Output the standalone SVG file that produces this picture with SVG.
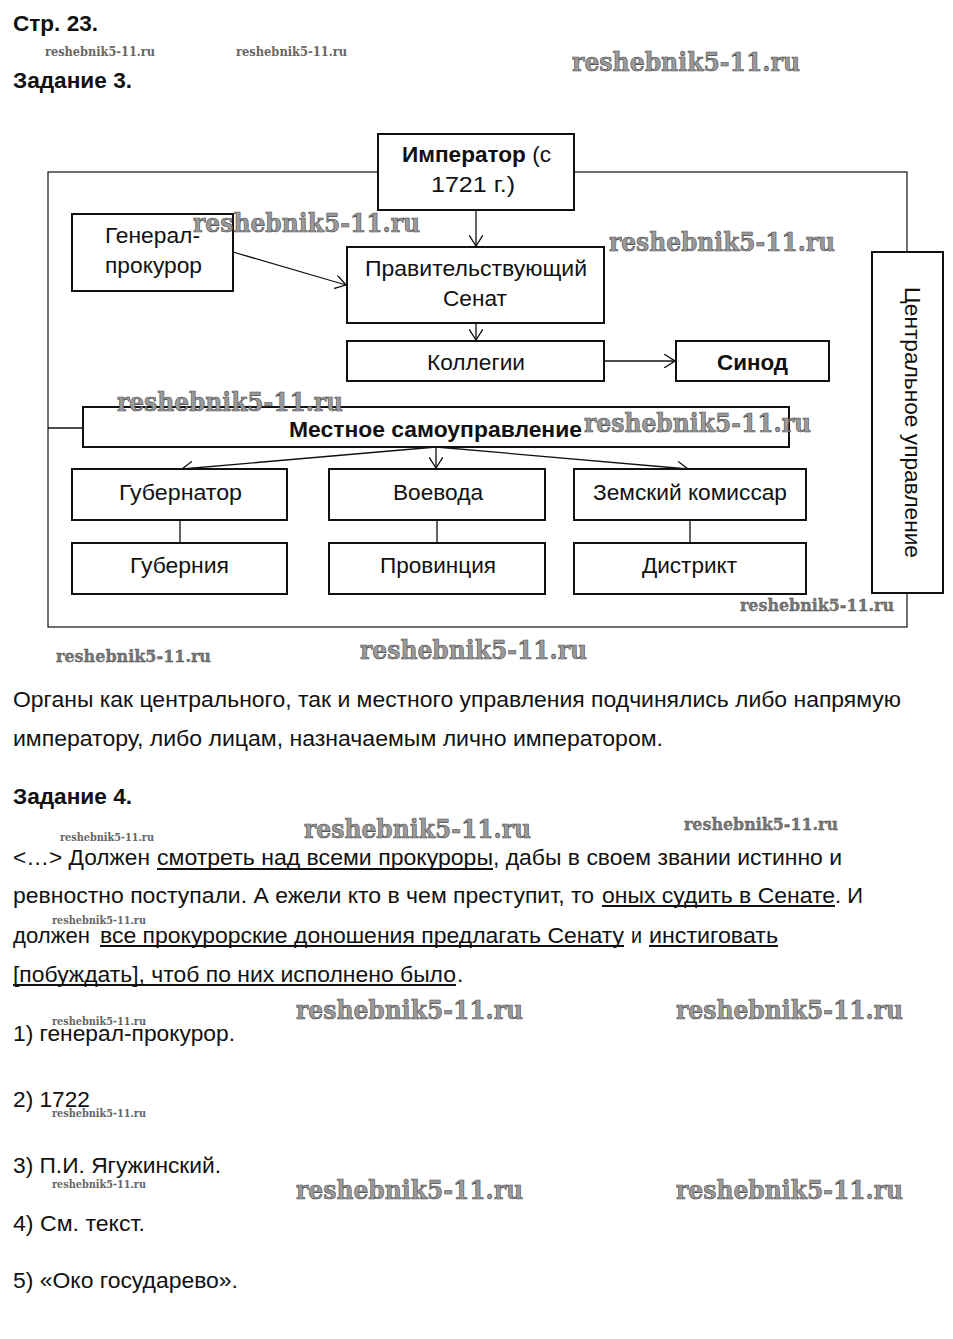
<svg xmlns="http://www.w3.org/2000/svg" width="953" height="1339" viewBox="0 0 953 1339">
<defs>
<style>
.t{font-family:"Liberation Sans",Arial,sans-serif;font-size:22px;fill:#111}
.p{font-family:"Liberation Sans",Arial,sans-serif;font-size:22.5px;fill:#111}
.b{font-weight:bold}
.h{font-family:"Liberation Sans",Arial,sans-serif;font-size:22px;font-weight:bold;fill:#111}
.box{fill:#fff;stroke:#111;stroke-width:2}
.frame{fill:none;stroke:#111;stroke-width:1.2}
.ln{fill:none;stroke:#111;stroke-width:1.3}
.ul{stroke:#111;stroke-width:1.8}
.wl{font-family:"DejaVu Serif",serif;font-weight:bold;font-size:26px;fill:#9a9a9a;stroke:#444;stroke-width:0.6}
.wm{font-family:"DejaVu Serif",serif;font-weight:bold;font-size:17px;fill:#777;stroke:#444;stroke-width:0.3}
.ws{font-family:"DejaVu Serif",serif;font-weight:bold;font-size:12px;fill:#666}
</style>
<marker id="ar" viewBox="0 0 12 14" refX="11" refY="7" markerWidth="12" markerHeight="14" markerUnits="userSpaceOnUse" orient="auto">
<path d="M0,0 L11,7 L0,14" fill="none" stroke="#111" stroke-width="1.3"/>
</marker>
</defs>
<rect width="953" height="1339" fill="#fff"/>

<text class="h" x="13" y="31" textLength="85" lengthAdjust="spacingAndGlyphs">Стр. 23.</text>
<text class="h" x="13" y="88" textLength="119" lengthAdjust="spacingAndGlyphs">Задание 3.</text>

<rect class="frame" x="48" y="172" width="859" height="455"/>

<g id="connectors">
<line class="ln" x1="476" y1="210" x2="476" y2="246" marker-end="url(#ar)"/>
<line class="ln" x1="233" y1="252" x2="346" y2="285" marker-end="url(#ar)"/>
<line class="ln" x1="476" y1="323" x2="476" y2="340" marker-end="url(#ar)"/>
<line class="ln" x1="604" y1="361" x2="675" y2="361" marker-end="url(#ar)"/>
<line class="ln" x1="48" y1="428" x2="83" y2="428"/>
<line class="ln" x1="436" y1="447" x2="182" y2="469" marker-end="url(#ar)"/>
<line class="ln" x1="436" y1="447" x2="436" y2="468" marker-end="url(#ar)"/>
<line class="ln" x1="436" y1="447" x2="688" y2="469" marker-end="url(#ar)"/>
<line class="ln" x1="180" y1="520" x2="180" y2="543"/>
<line class="ln" x1="437" y1="520" x2="437" y2="543"/>
<line class="ln" x1="690" y1="520" x2="690" y2="543"/>
</g>

<g id="emperor">
<rect class="box" x="378" y="134" width="196" height="76"/>
<text class="t" x="402" y="162" textLength="149" lengthAdjust="spacingAndGlyphs"><tspan class="b">Император</tspan> (с</text>
<text class="t" x="431" y="192" textLength="84" lengthAdjust="spacingAndGlyphs">1721 г.)</text>
</g>
<g id="genprok">
<rect class="box" x="72" y="214" width="161" height="77"/>
<text class="t" x="105" y="243" textLength="95" lengthAdjust="spacingAndGlyphs">Генерал-</text>
<text class="t" x="105" y="273" textLength="97" lengthAdjust="spacingAndGlyphs">прокурор</text>
</g>
<g id="senat">
<rect class="box" x="347" y="247" width="257" height="76"/>
<text class="t" x="365" y="276" textLength="222" lengthAdjust="spacingAndGlyphs">Правительствующий</text>
<text class="t" x="443" y="306" textLength="64" lengthAdjust="spacingAndGlyphs">Сенат</text>
</g>
<g id="kollegii">
<rect class="box" x="347" y="341" width="257" height="40"/>
<text class="t" x="427" y="370" textLength="98" lengthAdjust="spacingAndGlyphs">Коллегии</text>
</g>
<g id="sinod">
<rect class="box" x="676" y="341" width="153" height="40"/>
<text class="t b" x="717" y="370" textLength="71" lengthAdjust="spacingAndGlyphs">Синод</text>
</g>
<g id="mestnoe">
<rect class="box" x="83" y="407" width="706" height="40"/>
<text class="t b" x="289" y="437" textLength="293" lengthAdjust="spacingAndGlyphs">Местное самоуправление</text>
</g>
<g id="gubernator">
<rect class="box" x="72" y="469" width="215" height="51"/>
<text class="t" x="119" y="500" textLength="123" lengthAdjust="spacingAndGlyphs">Губернатор</text>
</g>
<g id="voevoda">
<rect class="box" x="329" y="469" width="216" height="51"/>
<text class="t" x="393" y="500" textLength="90" lengthAdjust="spacingAndGlyphs">Воевода</text>
</g>
<g id="zemsky">
<rect class="box" x="574" y="469" width="232" height="51"/>
<text class="t" x="593" y="500" textLength="194" lengthAdjust="spacingAndGlyphs">Земский комиссар</text>
</g>
<g id="guberniya">
<rect class="box" x="72" y="543" width="215" height="51"/>
<text class="t" x="130" y="573" textLength="99" lengthAdjust="spacingAndGlyphs">Губерния</text>
</g>
<g id="provinciya">
<rect class="box" x="329" y="543" width="216" height="51"/>
<text class="t" x="380" y="573" textLength="116" lengthAdjust="spacingAndGlyphs">Провинция</text>
</g>
<g id="distrikt">
<rect class="box" x="574" y="543" width="232" height="51"/>
<text class="t" x="642" y="573" textLength="95" lengthAdjust="spacingAndGlyphs">Дистрикт</text>
</g>
<g id="central">
<rect class="box" x="872" y="252" width="71" height="341"/>
<text class="t" transform="translate(905,422) rotate(90)" x="-135" y="0" textLength="271" lengthAdjust="spacingAndGlyphs">Центральное управление</text>
</g>

<text class="p" x="13" y="707" textLength="888" lengthAdjust="spacingAndGlyphs">Органы как центрального, так и местного управления подчинялись либо напрямую</text>
<text class="p" x="13" y="746" textLength="650" lengthAdjust="spacingAndGlyphs">императору, либо лицам, назначаемым лично императором.</text>

<text class="h" x="13" y="804" textLength="119" lengthAdjust="spacingAndGlyphs">Задание 4.</text>

<text class="p" x="13" y="865" textLength="137" lengthAdjust="spacingAndGlyphs">&lt;…&gt; Должен</text>
<text class="p" x="157" y="865" textLength="336" lengthAdjust="spacingAndGlyphs">смотреть над всеми прокуроры</text>
<text class="p" x="493" y="865" textLength="349" lengthAdjust="spacingAndGlyphs">, дабы в своем звании истинно и</text>
<line class="ul" x1="157" y1="869" x2="493" y2="869"/>

<text class="p" x="13" y="903" textLength="581" lengthAdjust="spacingAndGlyphs">ревностно поступали. А ежели кто в чем преступит, то</text>
<text class="p" x="602" y="903" textLength="233" lengthAdjust="spacingAndGlyphs">оных судить в Сенате</text>
<text class="p" x="835" y="903" textLength="28" lengthAdjust="spacingAndGlyphs">. И</text>
<line class="ul" x1="602" y1="906" x2="835" y2="906"/>

<text class="p" x="13" y="943" textLength="77" lengthAdjust="spacingAndGlyphs">должен</text>
<text class="p" x="100" y="943" textLength="524" lengthAdjust="spacingAndGlyphs">все прокурорские доношения предлагать Сенату</text>
<text class="p" x="631" y="943" textLength="11" lengthAdjust="spacingAndGlyphs">и</text>
<text class="p" x="649" y="943" textLength="129" lengthAdjust="spacingAndGlyphs">инстиговать</text>
<line class="ul" x1="100" y1="946" x2="624" y2="946"/>
<line class="ul" x1="649" y1="946" x2="778" y2="946"/>

<text class="p" x="13" y="982" textLength="443" lengthAdjust="spacingAndGlyphs">[побуждать], чтоб по них исполнено было</text>
<text class="p" x="457" y="982">.</text>
<line class="ul" x1="13" y1="985" x2="456" y2="985"/>

<text class="p" x="13" y="1041" textLength="222" lengthAdjust="spacingAndGlyphs">1) генерал-прокурор.</text>
<text class="p" x="13" y="1107" textLength="77" lengthAdjust="spacingAndGlyphs">2) 1722</text>
<text class="p" x="13" y="1173" textLength="208" lengthAdjust="spacingAndGlyphs">3) П.И. Ягужинский.</text>
<text class="p" x="13" y="1231" textLength="132" lengthAdjust="spacingAndGlyphs">4) См. текст.</text>
<text class="p" x="13" y="1288" textLength="225" lengthAdjust="spacingAndGlyphs">5) «Око государево».</text>

<g id="watermarks">
<text class="ws" x="45" y="56" textLength="110" lengthAdjust="spacingAndGlyphs">reshebnik5-11.ru</text>
<text class="ws" x="236" y="56" textLength="111" lengthAdjust="spacingAndGlyphs">reshebnik5-11.ru</text>
<text class="wl" x="572" y="71" textLength="228" lengthAdjust="spacingAndGlyphs">reshebnik5-11.ru</text>
<text class="wl" x="193" y="232" textLength="227" lengthAdjust="spacingAndGlyphs">reshebnik5-11.ru</text>
<text class="wl" x="609" y="251" textLength="226" lengthAdjust="spacingAndGlyphs">reshebnik5-11.ru</text>
<text class="wl" x="117" y="411" textLength="226" lengthAdjust="spacingAndGlyphs">reshebnik5-11.ru</text>
<text class="wl" x="584" y="432" textLength="227" lengthAdjust="spacingAndGlyphs">reshebnik5-11.ru</text>
<text class="wm" x="740" y="611" textLength="154" lengthAdjust="spacingAndGlyphs">reshebnik5-11.ru</text>
<text class="wm" x="56" y="662" textLength="155" lengthAdjust="spacingAndGlyphs">reshebnik5-11.ru</text>
<text class="wl" x="360" y="659" textLength="227" lengthAdjust="spacingAndGlyphs">reshebnik5-11.ru</text>
<text class="ws" x="60" y="841" textLength="94" lengthAdjust="spacingAndGlyphs" style="font-size:11px">reshebnik5-11.ru</text>
<text class="wl" x="304" y="838" textLength="227" lengthAdjust="spacingAndGlyphs">reshebnik5-11.ru</text>
<text class="wm" x="684" y="830" textLength="154" lengthAdjust="spacingAndGlyphs">reshebnik5-11.ru</text>
<text class="ws" x="52" y="924" textLength="94" lengthAdjust="spacingAndGlyphs" style="font-size:11px">reshebnik5-11.ru</text>
<text class="wl" x="296" y="1019" textLength="227" lengthAdjust="spacingAndGlyphs">reshebnik5-11.ru</text>
<text class="wl" x="676" y="1019" textLength="227" lengthAdjust="spacingAndGlyphs">reshebnik5-11.ru</text>
<text class="ws" x="52" y="1025" textLength="94" lengthAdjust="spacingAndGlyphs" style="font-size:11px">reshebnik5-11.ru</text>
<text class="ws" x="52" y="1117" textLength="94" lengthAdjust="spacingAndGlyphs" style="font-size:11px">reshebnik5-11.ru</text>
<text class="ws" x="52" y="1188" textLength="94" lengthAdjust="spacingAndGlyphs" style="font-size:11px">reshebnik5-11.ru</text>
<text class="wl" x="296" y="1199" textLength="227" lengthAdjust="spacingAndGlyphs">reshebnik5-11.ru</text>
<text class="wl" x="676" y="1199" textLength="227" lengthAdjust="spacingAndGlyphs">reshebnik5-11.ru</text>
</g>
</svg>
